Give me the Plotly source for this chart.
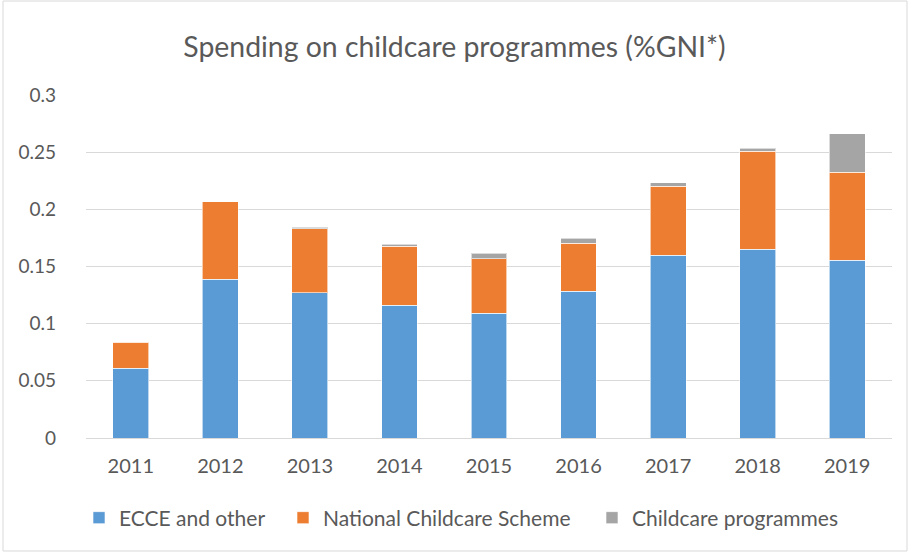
import plotly.graph_objects as go

years = ["2011", "2012", "2013", "2014", "2015", "2016", "2017", "2018", "2019"]
ecce_other = [0.061, 0.139, 0.127, 0.116, 0.109, 0.1285, 0.160, 0.165, 0.1555]
national_scheme = [0.0227, 0.0675, 0.056, 0.0516, 0.048, 0.042, 0.060, 0.086, 0.077]
childcare_prog = [0.0, 0.0, 0.0012, 0.0017, 0.0044, 0.004, 0.0032, 0.0023, 0.0335]

series = [
    ("ECCE and other", ecce_other, "#5b9bd5"),
    ("National Childcare Scheme", national_scheme, "#ed7d31"),
    ("Childcare programmes", childcare_prog, "#a5a5a5"),
]

W, H = 909, 554
L, R, T, B = 86, 17, 95, 116
GREY = "#595959"
pw, ph = W - L - R, H - T - B

# left edge (px) of each legend entry's text in the reference
legend_text_x = [119, 323, 632]
legend_names = ["legend", "legend2", "legend3"]

fig = go.Figure()
for (name, vals, color), lg in zip(series, legend_names):
    fig.add_trace(go.Bar(
        x=years, y=vals, name=name, legend=lg,
        marker=dict(color=color, line=dict(color="rgba(255,255,255,0.6)", width=1)),
    ))

legend_y = -(518 - (H - B)) / ph
legends = {}
for lg, tx in zip(legend_names, legend_text_x):
    legends[lg] = dict(orientation="h", x=(tx - 40 - L) / pw, xanchor="left",
                       y=legend_y, yanchor="middle", bgcolor="rgba(0,0,0,0)",
                       font=dict(size=21, color=GREY), itemwidth=30)

fig.update_layout(
    barmode="stack",
    bargap=0.6,
    width=W, height=H,
    margin=dict(l=L, r=R, t=T, b=B, autoexpand=False),
    paper_bgcolor="white",
    plot_bgcolor="white",
    font=dict(family="Lato, Open Sans, sans-serif", size=19, color=GREY),
    title=dict(text="Spending on childcare programmes (%GNI*)",
               x=0.5, xanchor="center", y=1 - 47 / H, yanchor="middle",
               font=dict(size=28.4, color=GREY)),
    showlegend=True,
    **legends,
)
fig.update_xaxes(showgrid=False, showline=True, linecolor="#d9d9d9", linewidth=1,
                 ticks="", tickfont=dict(size=20), ticklabelstandoff=10)
fig.update_yaxes(range=[0, 0.3], dtick=0.05, showgrid=True, gridcolor="#d9d9d9",
                 gridwidth=1, zeroline=False, showline=False, ticks="",
                 tickfont=dict(size=19), ticklabelstandoff=29)

# thin border round the whole chart
fig.add_shape(type="rect", xref="paper", yref="paper",
              x0=-(L - 3) / pw, x1=1 + (R - 2) / pw,
              y0=-(B - 3) / ph, y1=1 + (T - 1) / ph,
              line=dict(color="#d9d9d9", width=1), layer="below")

fig.write_html("out.html", config={"displayModeBar": False},
               post_script="document.body.style.margin='0';")
